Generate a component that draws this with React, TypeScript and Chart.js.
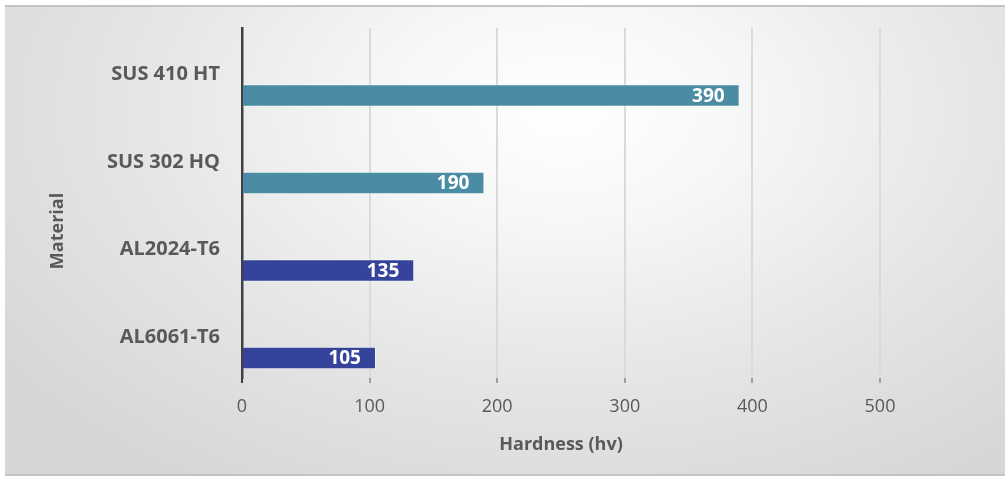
import React, { useEffect, useRef } from 'react';
import { Chart, registerables } from 'chart.js';

Chart.register(...registerables);

const categories = ['SUS 410 HT', 'SUS 302 HQ', 'AL2024-T6', 'AL6061-T6'];
const hardness = [390, 190, 135, 105];
const barColors = ['#4a8ca3', '#4a8ca3', '#35449a', '#35449a'];
const emptySeries = [null, null, null, null];
const xMin = 0;
const xMax = 500;
const xStep = 100;
const xTitle = 'Hardness (hv)';
const yTitle = 'Material';

const FONT = '"Open Sans", "DejaVu Sans", sans-serif';
const TEXT = '#595959';
const TARGET_TOP = 28;

const valueLabelPlugin = {
  id: 'valueLabels',
  afterDatasetsDraw(chart: any) {
    const ctx = chart.ctx;
    const meta = chart.getDatasetMeta(2);
    ctx.save();
    ctx.font = `bold 19px ${FONT}`;
    ctx.fillStyle = '#ffffff';
    ctx.textAlign = 'right';
    ctx.textBaseline = 'middle';
    meta.data.forEach((bar: any, i: number) => {
      ctx.fillText(String(hardness[i]), bar.x - 15, bar.y + 1);
    });
    ctx.restore();
  },
};

const yTitlePlugin = {
  id: 'yTitleManual',
  afterDraw(chart: any) {
    const ctx = chart.ctx;
    const area = chart.chartArea;
    ctx.save();
    ctx.translate(area.left - 184, (area.top + area.bottom) / 2 + 28);
    ctx.rotate(-Math.PI / 2);
    ctx.font = `bold 18px ${FONT}`;
    ctx.fillStyle = TEXT;
    ctx.textAlign = 'center';
    ctx.textBaseline = 'middle';
    ctx.fillText(yTitle, 0, 0);
    ctx.restore();
  },
};

export default function App() {
  const canvasRef = useRef<HTMLCanvasElement | null>(null);

  useEffect(() => {
    let chart: any = null;
    let cancelled = false;
    const make = () => {
      if (cancelled || !canvasRef.current) return;
      const common = { categoryPercentage: 0.814, barPercentage: 0.95 };
      chart = new Chart(canvasRef.current, {
        type: 'bar',
        data: {
          labels: categories,
          datasets: [
            { label: 'a', data: emptySeries as any, ...common },
            { label: 'b', data: emptySeries as any, ...common },
            {
              label: 'Hardness',
              data: hardness,
              backgroundColor: barColors,
              borderColor: 'rgba(255,255,255,0.45)',
              borderWidth: 1,
              ...common,
            },
          ],
        },
        options: {
          indexAxis: 'y',
          animation: false,
          responsive: false,
          maintainAspectRatio: false,
          layout: { padding: { left: 0, right: 128, top: TARGET_TOP, bottom: 0 } },
          plugins: {
            legend: { display: false },
            tooltip: { enabled: false },
            title: { display: false },
          },
          scales: {
            x: {
              min: xMin,
              max: xMax,
              ticks: {
                stepSize: xStep,
                color: TEXT,
                font: { family: FONT, size: 18 },
                padding: 13,
              },
              grid: {
                color: (c: any) => (c.tick && c.tick.value === 0 ? 'rgba(0,0,0,0)' : '#dadada'),
                lineWidth: 2,
                drawTicks: true,
                tickLength: 5,
                tickColor: (c: any) => (c.tick && c.tick.value === 0 ? '#404040' : '#a0a0a0'),
              },
              border: { display: false },
              title: {
                display: true,
                text: xTitle,
                color: TEXT,
                font: { family: FONT, size: 18, weight: 'bold' },
                padding: { top: 0, bottom: 21 },
              },
              afterFit: (scale: any) => {
                scale.height = 99;
                scale.paddingLeft = 0;
                scale.paddingRight = 0;
              },
            },
            y: {
              ticks: {
                color: TEXT,
                font: { family: FONT, size: 20, weight: 'bold' },
                padding: 22,
                labelOffset: 3,
              },
              grid: { display: false, drawTicks: false },
              border: { display: true, color: '#404040', width: 2.5 },
              afterFit: (scale: any) => {
                scale.width = 242;
                scale.paddingTop = 0;
                scale.paddingBottom = 0;
              },
            },
          },
        },
        plugins: [valueLabelPlugin, yTitlePlugin],
      });
      const dt = chart.chartArea.top - TARGET_TOP;
      if (Math.abs(dt) > 0.1) {
        chart.options.layout.padding = { left: 0, right: 128, top: TARGET_TOP - dt, bottom: 0 };
        chart.update();
      }
    };
    const fonts: any = (document as any).fonts;
    if (fonts && fonts.load) {
      Promise.all([
        fonts.load(`bold 19px "Open Sans"`),
        fonts.load(`18px "Open Sans"`),
      ])
        .catch(() => null)
        .then(make);
    } else {
      make();
    }
    return () => {
      cancelled = true;
      if (chart) chart.destroy();
    };
  }, []);

  return (
    <div
      style={{
        position: 'fixed',
        left: 0,
        top: 0,
        width: 1008,
        height: 477,
        background: '#ffffff',
        overflow: 'hidden',
      }}
    >
      <div
        style={{
          position: 'absolute',
          left: 5,
          top: 5,
          width: 1000,
          height: 471,
          boxSizing: 'border-box',
          borderTop: '2px solid #c4c4c4',
          borderBottom: '2px solid #c4c4c4',
          background:
            'radial-gradient(ellipse 70% 95% at 56% 22%, #ffffff 0%, #f7f7f7 25%, #e6e6e6 60%, #d6d6d6 100%)',
        }}
      />
      <canvas
        ref={canvasRef}
        width={1008}
        height={477}
        style={{ position: 'absolute', left: 0, top: 0, width: 1008, height: 477 }}
      />
    </div>
  );
}
